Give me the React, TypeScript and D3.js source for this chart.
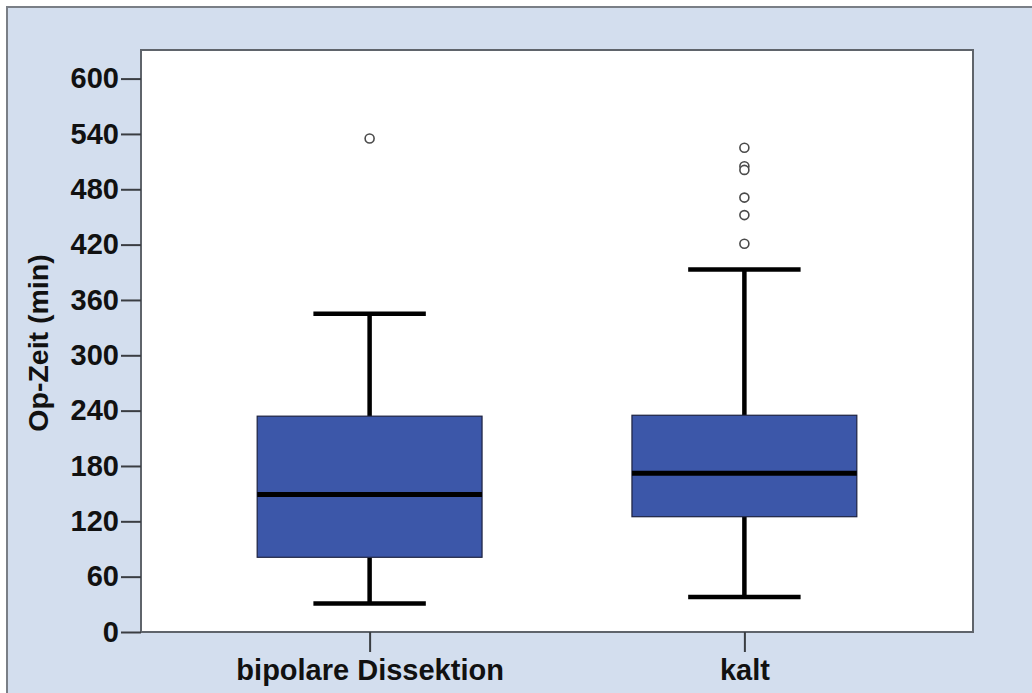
import React, { useRef, useEffect } from 'react';
import * as d3 from 'd3';

// box plot stats (Op-Zeit in minutes)
const groups = ['bipolare Dissektion', 'kalt'];
const whiskerLow = [31, 38];
const q1 = [81, 125];
const median = [149, 172];
const q3 = [234, 235];
const whiskerHigh = [345, 393];
const outliers = [[535], [525, 505, 501, 471, 452, 421]];
const yTicks = [0, 60, 120, 180, 240, 300, 360, 420, 480, 540, 600];

export default function App() {
  const ref = useRef<SVGSVGElement>(null);

  useEffect(() => {
    const svg = d3.select(ref.current);
    svg.selectAll('*').remove();

    const W = 1032, H = 693;
    const plot = { left: 141, right: 973, top: 50, bottom: 632 };
    const font = '"Liberation Sans", Arial, sans-serif';

    // outer frame
    svg.append('rect')
      .attr('x', 7).attr('y', 7)
      .attr('width', W).attr('height', H)
      .attr('fill', '#d3deee')
      .attr('stroke', '#7a7f86')
      .attr('stroke-width', 2);

    const x = d3.scalePoint<string>()
      .domain(groups)
      .range([plot.left, plot.right])
      .padding(0.61);

    const y = d3.scaleLinear()
      .domain([0, 631])
      .range([plot.bottom, plot.top]);

    const step = x.step();
    const boxW = step * 0.6;
    const capW = boxW / 2;

    // plot area
    svg.append('rect')
      .attr('x', plot.left).attr('y', plot.top)
      .attr('width', plot.right - plot.left)
      .attr('height', plot.bottom - plot.top)
      .attr('fill', '#ffffff')
      .attr('stroke', '#5f646b')
      .attr('stroke-width', 2);

    // y axis
    const yAxis = svg.append('g')
      .attr('transform', `translate(${plot.left},0)`)
      .call(d3.axisLeft(y).tickValues(yTicks).tickSize(20).tickPadding(2).tickSizeOuter(0));
    yAxis.select('.domain').remove();
    yAxis.selectAll('line').attr('stroke', '#3a3d42').attr('stroke-width', 2);
    yAxis.selectAll('text')
      .attr('fill', '#111')
      .style('font-family', font)
      .style('font-size', '29px')
      .style('font-weight', '700');

    // x axis
    const xAxis = svg.append('g')
      .attr('transform', `translate(0,${plot.bottom})`)
      .call(d3.axisBottom(x).tickSize(20).tickPadding(7).tickSizeOuter(0));
    xAxis.select('.domain').remove();
    xAxis.selectAll('line').attr('stroke', '#3a3d42').attr('stroke-width', 2);
    xAxis.selectAll('text')
      .attr('fill', '#111')
      .style('font-family', font)
      .style('font-size', '29px')
      .style('font-weight', '700');

    // y title
    svg.append('text')
      .attr('transform', `translate(48,343) rotate(-90)`)
      .attr('text-anchor', 'middle')
      .attr('fill', '#111')
      .style('font-family', font)
      .style('font-size', '28.5px')
      .style('font-weight', '700')
      .text('Op-Zeit (min)');

    const boxes = svg.append('g');
    groups.forEach((gname, i) => {
      const cx = x(gname) as number;
      const g = boxes.append('g');

      // whiskers
      g.append('line')
        .attr('x1', cx).attr('x2', cx)
        .attr('y1', y(q3[i])).attr('y2', y(whiskerHigh[i]))
        .attr('stroke', '#000').attr('stroke-width', 4.5);
      g.append('line')
        .attr('x1', cx).attr('x2', cx)
        .attr('y1', y(q1[i])).attr('y2', y(whiskerLow[i]))
        .attr('stroke', '#000').attr('stroke-width', 4.5);
      [whiskerHigh[i], whiskerLow[i]].forEach(v => {
        g.append('line')
          .attr('x1', cx - capW / 2).attr('x2', cx + capW / 2)
          .attr('y1', y(v)).attr('y2', y(v))
          .attr('stroke', '#000').attr('stroke-width', 4.5);
      });

      // box
      g.append('rect')
        .attr('x', cx - boxW / 2)
        .attr('y', y(q3[i]))
        .attr('width', boxW)
        .attr('height', y(q1[i]) - y(q3[i]))
        .attr('fill', '#3c57a9')
        .attr('stroke', '#1d2240')
        .attr('stroke-width', 1.2);

      // median
      g.append('line')
        .attr('x1', cx - boxW / 2).attr('x2', cx + boxW / 2)
        .attr('y1', y(median[i])).attr('y2', y(median[i]))
        .attr('stroke', '#000').attr('stroke-width', 5);

      // outliers
      g.selectAll('circle')
        .data(outliers[i])
        .enter()
        .append('circle')
        .attr('cx', cx)
        .attr('cy', d => y(d))
        .attr('r', 4.5)
        .attr('fill', '#fff')
        .attr('stroke', '#4a4a4a')
        .attr('stroke-width', 1.6);
    });
  }, []);

  return (
    <svg
      ref={ref}
      width={1032}
      height={693}
      style={{ position: 'absolute', left: 0, top: 0, display: 'block' }}
    />
  );
}
